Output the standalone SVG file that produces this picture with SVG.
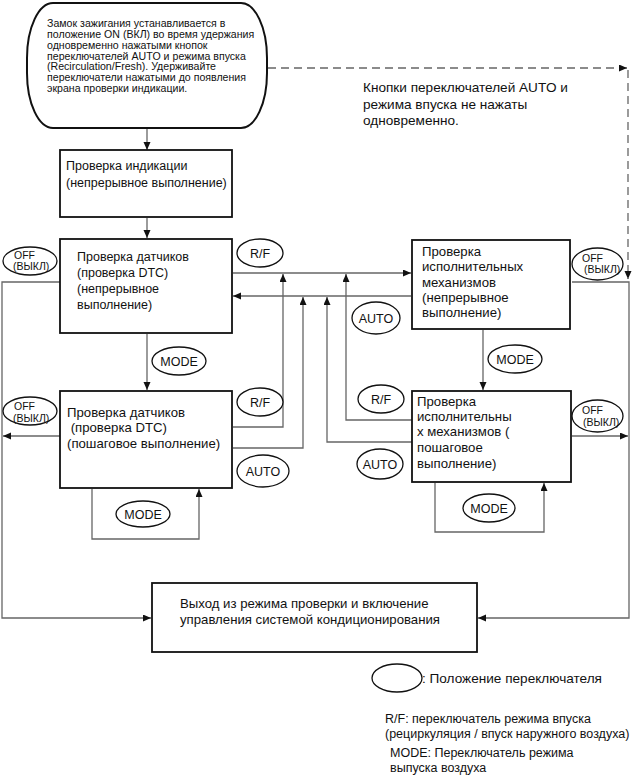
<svg xmlns="http://www.w3.org/2000/svg" width="632" height="777" viewBox="0 0 632 777">
<style>
text{font-family:"Liberation Sans",Arial,sans-serif;fill:#111}
.t10{font-size:10.6px}
.t12{font-size:12.5px}
.t13{font-size:13.2px}
.t135{font-size:13.6px}
.off{font-size:10.5px}
.box{fill:#fff;stroke:#111;stroke-width:1.8}
.el{fill:#fff;stroke:#111;stroke-width:1.3}
.ln{fill:none;stroke:#666;stroke-width:1.3}
.arr{marker-end:url(#ah)}
.dash{fill:none;stroke:#666;stroke-width:1.3;stroke-dasharray:8 5}
</style>
<defs>
<marker id="ah" markerUnits="userSpaceOnUse" markerWidth="9" markerHeight="8" refX="8" refY="3.5" orient="auto">
<path d="M0,0 L8,3.5 L0,7 z" fill="#111"/>
</marker>
</defs>

<g id="connectors">
<line class="ln arr" x1="147" y1="129" x2="147" y2="150"/>
<line class="ln arr" x1="147" y1="218" x2="147" y2="238"/>
<line class="ln arr" x1="147" y1="334" x2="147" y2="390"/>
<line class="ln arr" x1="483" y1="330" x2="483" y2="390"/>
<polyline class="dash arr" points="268,68 627,68"/>
<polyline class="dash arr" points="628,70 628,279"/>
<line class="ln arr" x1="233" y1="273" x2="411" y2="273"/>
<line class="ln arr" x1="411" y1="296" x2="233" y2="296"/>
<polyline class="ln arr" points="233,427 283,427 283,274"/>
<polyline class="ln arr" points="233,448 303,448 303,297"/>
<polyline class="ln arr" points="412,442 327,442 327,297"/>
<polyline class="ln arr" points="412,420 346,420 346,274"/>
<polyline class="ln arr" points="92,489 92,539 199,539 199,489"/>
<polyline class="ln arr" points="435,483 435,532 544,532 544,483"/>
<polyline class="ln arr" points="60,282 2,282 2,618 151,618"/>
<line class="ln arr" x1="60" y1="436" x2="3" y2="436"/>
<polyline class="ln arr" points="572,282 629,282 629,618 478,618"/>
<line class="ln arr" x1="572" y1="436" x2="628" y2="436"/>
</g>

<g id="start">
<rect x="27" y="3" width="240" height="125" rx="26" ry="55" fill="#fff" stroke="#111" stroke-width="2"/>
<text class="t10"><tspan x="47" y="27">Замок зажигания устанавливается в</tspan><tspan x="47" y="38">положение ON (ВКЛ) во время удержания</tspan><tspan x="47" y="48.5">одновременно нажатыми кнопок</tspan><tspan x="47" y="59.5">переключателей AUTO и режима впуска</tspan><tspan x="47" y="70">(Recirculation/Fresh). Удерживайте</tspan><tspan x="47" y="81">переключатели нажатыми до появления</tspan><tspan x="47" y="91.5">экрана проверки индикации.</tspan></text>
</g>

<g id="note">
<text class="t135"><tspan x="363" y="92">Кнопки переключателей AUTO и</tspan><tspan x="363" y="108.5">режима впуска не нажаты</tspan><tspan x="363" y="125">одновременно.</tspan></text>
</g>

<g id="indication">
<rect class="box" x="60" y="150" width="172" height="67"/>
<text class="t12"><tspan x="66" y="170">Проверка индикации</tspan><tspan x="66" y="187">(непрерывное выполнение)</tspan></text>
</g>

<g id="sensors-cont">
<rect class="box" x="60" y="239" width="172" height="94"/>
<text class="t12"><tspan x="77" y="261">Проверка датчиков</tspan><tspan x="77" y="277">(проверка DTC)</tspan><tspan x="77" y="293">(непрерывное</tspan><tspan x="77" y="309">выполнение)</tspan></text>
</g>

<g id="sensors-step">
<rect class="box" x="60" y="391" width="172" height="97"/>
<text class="t13"><tspan x="67" y="417">Проверка датчиков</tspan><tspan x="67" y="432"> (проверка DTC)</tspan><tspan x="67" y="448">(пошаговое выполнение)</tspan></text>
</g>

<g id="actuators-cont">
<rect class="box" x="412" y="240" width="158" height="89"/>
<text class="t13"><tspan x="422" y="256">Проверка</tspan><tspan x="422" y="271">исполнительных</tspan><tspan x="422" y="287">механизмов</tspan><tspan x="422" y="302">(непрерывное</tspan><tspan x="422" y="317">выполнение)</tspan></text>
</g>

<g id="actuators-step">
<rect class="box" x="412" y="391" width="159" height="91"/>
<text class="t13"><tspan x="417" y="406">Проверка</tspan><tspan x="417" y="421">исполнительны</tspan><tspan x="417" y="436">х механизмов (</tspan><tspan x="417" y="452">пошаговое</tspan><tspan x="417" y="468">выполнение)</tspan></text>
</g>

<g id="exit">
<rect class="box" x="152" y="583" width="325" height="69"/>
<text class="t13"><tspan x="180" y="608">Выход из режима проверки и включение</tspan><tspan x="180" y="624">управления системой кондиционирования</tspan></text>
</g>

<g id="switches">
<g id="off1"><ellipse class="el" cx="30" cy="261" rx="27" ry="14"/><text class="off"><tspan x="14" y="259">OFF</tspan><tspan x="13" y="270">(ВЫКЛ)</tspan></text></g>
<g id="off2"><ellipse class="el" cx="30" cy="411" rx="27" ry="14"/><text class="off"><tspan x="14" y="410">OFF</tspan><tspan x="13" y="422">(ВЫКЛ)</tspan></text></g>
<g id="off3"><ellipse class="el" cx="597.5" cy="264" rx="25.5" ry="16"/><text class="off"><tspan x="582" y="262">OFF</tspan><tspan x="584" y="273">(ВЫКЛ)</tspan></text></g>
<g id="off4"><ellipse class="el" cx="597.5" cy="416" rx="25.5" ry="16"/><text class="off"><tspan x="582" y="414">OFF</tspan><tspan x="583" y="426">(ВЫКЛ)</tspan></text></g>
<g id="rf1"><ellipse class="el" cx="260" cy="253" rx="23" ry="14"/><text class="t12" x="260" y="258" text-anchor="middle">R/F</text></g>
<g id="rf2"><ellipse class="el" cx="260" cy="402" rx="23" ry="14"/><text class="t12" x="260" y="407" text-anchor="middle">R/F</text></g>
<g id="rf3"><ellipse class="el" cx="381" cy="399" rx="23" ry="14"/><text class="t12" x="381" y="404" text-anchor="middle">R/F</text></g>
<g id="auto1"><ellipse class="el" cx="376" cy="318" rx="24" ry="16"/><text class="t12" x="376" y="323" text-anchor="middle">AUTO</text></g>
<g id="auto2"><ellipse class="el" cx="263" cy="471" rx="26" ry="16"/><text class="t12" x="263" y="476" text-anchor="middle">AUTO</text></g>
<g id="auto3"><ellipse class="el" cx="380" cy="464" rx="23" ry="15"/><text class="t12" x="380" y="469" text-anchor="middle">AUTO</text></g>
<g id="mode1"><ellipse class="el" cx="179" cy="361" rx="27" ry="14"/><text class="t12" x="179" y="366" text-anchor="middle">MODE</text></g>
<g id="mode2"><ellipse class="el" cx="143" cy="514" rx="27" ry="13"/><text class="t12" x="143" y="519" text-anchor="middle">MODE</text></g>
<g id="mode3"><ellipse class="el" cx="515" cy="359" rx="27" ry="14"/><text class="t12" x="515" y="364" text-anchor="middle">MODE</text></g>
<g id="mode4"><ellipse class="el" cx="489" cy="508" rx="26" ry="14"/><text class="t12" x="489" y="513" text-anchor="middle">MODE</text></g>
</g>

<g id="legend">
<ellipse class="el" cx="397" cy="678" rx="25" ry="14"/>
<text class="t135" x="422" y="683">: Положение переключателя</text>
<text class="t12"><tspan x="385" y="723">R/F: переключатель режима впуска</tspan><tspan x="385" y="738">(рециркуляция / впуск наружного воздуха)</tspan></text>
<text class="t12"><tspan x="390" y="757">MODE: Переключатель режима</tspan><tspan x="390" y="772">выпуска воздуха</tspan></text>
</g>
</svg>
